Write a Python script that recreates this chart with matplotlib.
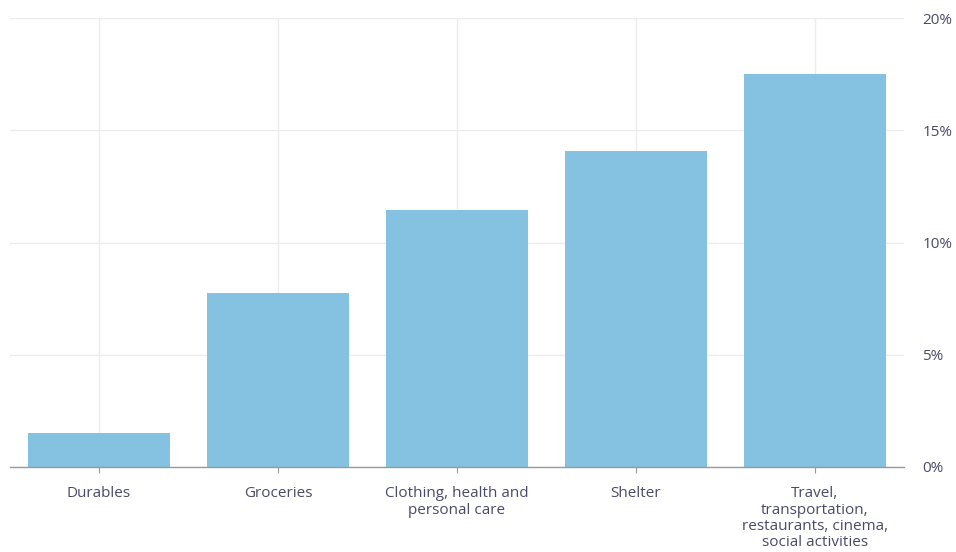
import matplotlib.pyplot as plt
from matplotlib.ticker import FuncFormatter

# данные
categories = ['Durables', 'Groceries', 'Clothing, health and\npersonal care', 'Shelter',
              'Travel,\ntransportation,\nrestaurants, cinema,\nsocial activities']
values = [1.5, 7.75, 11.45, 14.1, 17.5]
yticks = [0, 5, 10, 15, 20]

plt.rcParams['font.family'] = ['Open Sans', 'DejaVu Sans']

fig = plt.figure(figsize=(9.56, 5.52), dpi=100)
ax = fig.add_axes([0.01, 0.154, 0.936, 0.813])

x = range(len(categories))
ax.bar(x, values, width=0.79, color='#85c2e2', zorder=2)

ax.set_xlim(-0.5, len(categories) - 0.5)
ax.set_ylim(0, 20)
ax.set_xticks(list(x))
ax.set_xticklabels(categories, fontsize=11, color='#4a4a6a', linespacing=1.1)
ax.set_yticks(yticks)
ax.yaxis.set_major_formatter(FuncFormatter(lambda v, p: f'{v:.0f}%'))
ax.yaxis.tick_right()
ax.tick_params(axis='y', length=0, pad=13, labelsize=11, labelcolor='#4a4a6a')
ax.tick_params(axis='x', length=4, color='#999999', width=0.8, pad=10)

ax.grid(True, color='#ececec', linewidth=1, zorder=0)
for s in ['top', 'right', 'left']:
    ax.spines[s].set_visible(False)
ax.spines['bottom'].set_color('#999999')
ax.spines['bottom'].set_linewidth(1)
ax.spines['bottom'].set_zorder(3)

fig.savefig('out.png', dpi=100)
